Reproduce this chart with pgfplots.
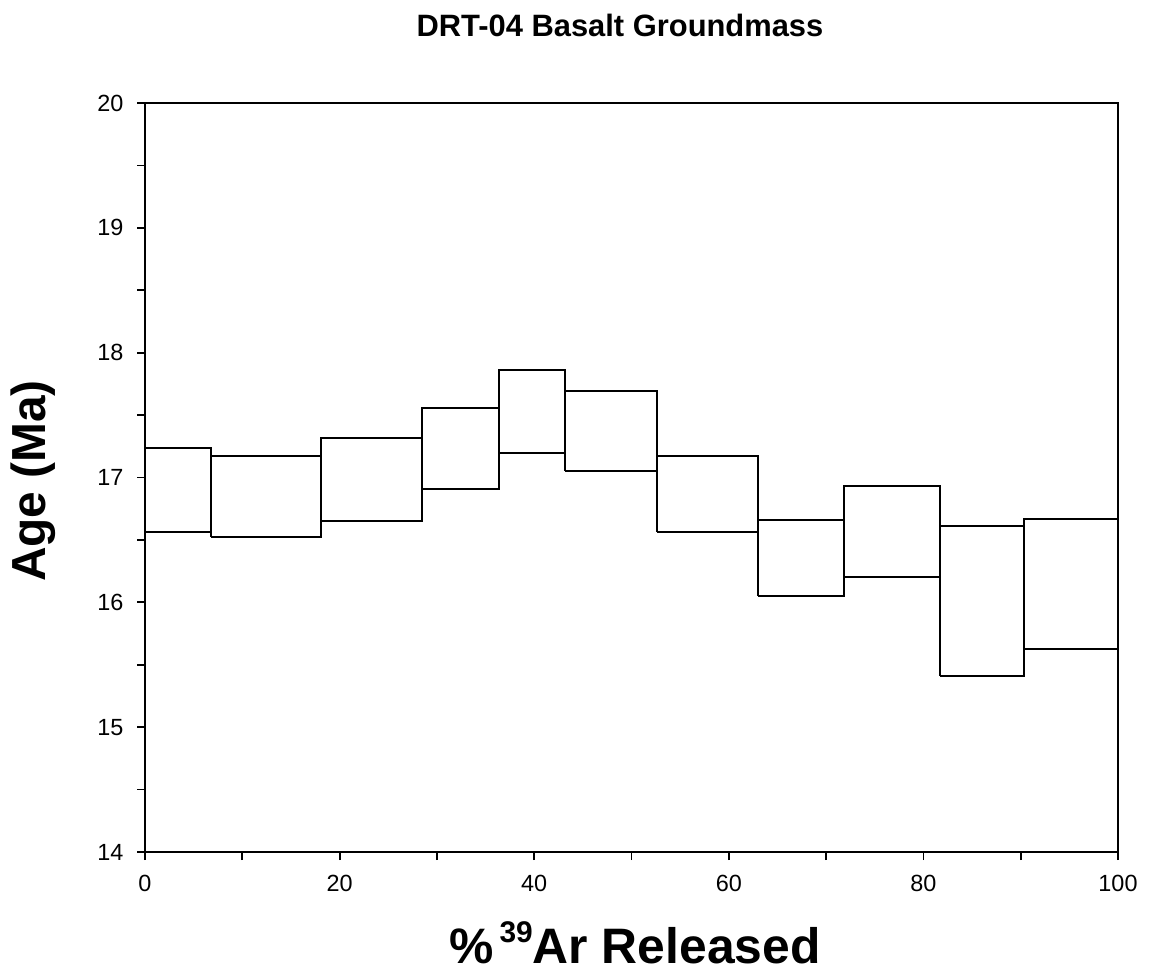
\documentclass[border=0pt]{standalone}
\usepackage{fontspec}
\setmainfont{Liberation Sans}
\usepackage{pgfplots}
\pgfplotsset{compat=1.18}
\begin{document}
\begin{tikzpicture}[box/.style={black, solid, mark=none, line width=2bp, line join=miter}]
\path (0,0) rectangle (1154bp,972bp);
\begin{axis}[
  at={(145bp,120bp)}, anchor=south west,
  width=973bp, height=749bp, scale only axis,
  xmin=0, xmax=100, ymin=14, ymax=20,
  xtick={0,20,...,100}, minor xtick={10,30,50,70,90},
  ytick={14,15,...,20}, minor ytick={14.5,15.5,...,19.5},
  tick align=outside, tick pos=left,
  major tick length=8bp, minor tick length=8bp,
  axis line style={line width=2bp},
  every tick/.style={line width=1.8bp, black},
  every minor tick/.style={line width=1.8bp, black},
  /pgf/number format/assume math mode=true,
  ticklabel style={font=\fontsize{23.5}{23.5}\selectfont},
  xticklabel style={anchor=north, yshift=-12bp},
  yticklabel style={anchor=east, xshift=-10bp},
]
\addplot[box] coordinates {(0,16.56) (6.78,16.56) (6.78,17.24) (0,17.24) (0,16.56)};
\addplot[box] coordinates {(6.78,16.52) (18.09,16.52) (18.09,17.17) (6.78,17.17) (6.78,16.52)};
\addplot[box] coordinates {(18.09,16.65) (28.5,16.65) (28.5,17.32) (18.09,17.32) (18.09,16.65)};
\addplot[box] coordinates {(28.5,16.91) (36.4,16.91) (36.4,17.56) (28.5,17.56) (28.5,16.91)};
\addplot[box] coordinates {(36.4,17.20) (43.2,17.20) (43.2,17.86) (36.4,17.86) (36.4,17.20)};
\addplot[box] coordinates {(43.2,17.05) (52.65,17.05) (52.65,17.69) (43.2,17.69) (43.2,17.05)};
\addplot[box] coordinates {(52.65,16.56) (63.03,16.56) (63.03,17.17) (52.65,17.17) (52.65,16.56)};
\addplot[box] coordinates {(63.03,16.05) (71.84,16.05) (71.84,16.66) (63.03,16.66) (63.03,16.05)};
\addplot[box] coordinates {(71.84,16.20) (81.74,16.20) (81.74,16.93) (71.84,16.93) (71.84,16.20)};
\addplot[box] coordinates {(81.74,15.41) (90.3,15.41) (90.3,16.61) (81.74,16.61) (81.74,15.41)};
\addplot[box] coordinates {(90.3,15.63) (100,15.63) (100,16.67) (90.3,16.67) (90.3,15.63)};
\end{axis}
\node[anchor=base, font=\bfseries\fontsize{31}{31}\selectfont] at (620bp,935bp) {DRT-04 Basalt Groundmass};
\node[anchor=base, font=\bfseries\fontsize{50}{50}\selectfont] at (635bp,9bp) {\%\hspace{0.12em}\raisebox{0.42em}{\fontsize{30}{30}\selectfont 39}Ar Released};
\node[rotate=90, font=\bfseries\fontsize{48}{48}\selectfont] at (33bp,491bp) {Age (Ma)};
\end{tikzpicture}
\end{document}
